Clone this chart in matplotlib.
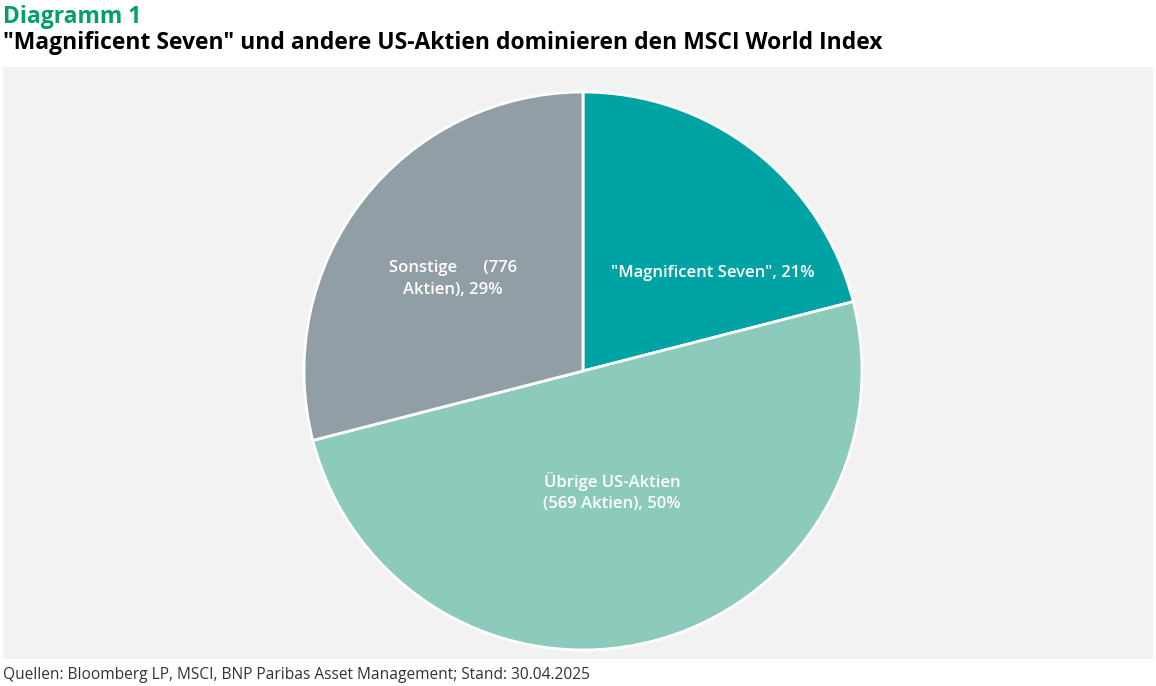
import matplotlib.pyplot as plt

plt.rcParams['font.family'] = ['Open Sans', 'DejaVu Sans']

segmente = ['"Magnificent Seven", 21%', 'Übrige US-Aktien\n(569 Aktien), 50%', 'Sonstige      (776\nAktien), 29%']
anteile = [21, 50, 29]
farben = ['#00a3a4', '#8ccbbb', '#929ea5']
# Position der Beschriftung (relativ zum Radius)
label_pos = [(0.466, 0.351), (0.104, -0.434), (-0.466, 0.33)]

W, H = 1156, 686
fig = plt.figure(figsize=(W / 100, H / 100), dpi=100)

# grauer Hintergrund
bg = fig.add_axes([3 / W, (H - 659) / H, 1150 / W, 592 / H])
bg.set_facecolor('#f2f2f2')
bg.set_xticks([])
bg.set_yticks([])
for s in bg.spines.values():
    s.set_visible(False)

# Kreisdiagramm
cx, cy, r = 583, 371, 279
ax = fig.add_axes([(cx - r) / W, (H - cy - r) / H, 2 * r / W, 2 * r / H])
ax.set_facecolor('none')
ax.pie(anteile, colors=farben, startangle=90, counterclock=False,
       wedgeprops=dict(edgecolor='white', linewidth=2))
for txt, (x, y) in zip(segmente, label_pos):
    ax.text(x, y, txt, color='white', fontsize=12, fontweight='semibold',
            ha='center', va='center', linespacing=1.45)
ax.set_xlim(-1, 1)
ax.set_ylim(-1, 1)
ax.set_aspect('equal')
ax.axis('off')

fig.text(0.003, 0.993, 'Diagramm 1', color='#00a06b', fontsize=16.5, fontweight='bold', va='top')
fig.text(0.003, 0.955, '"Magnificent Seven" und andere US-Aktien dominieren den MSCI World Index',
         color='black', fontsize=16.5, fontweight='bold', va='top')
fig.text(0.003, 0.005, 'Quellen: Bloomberg LP, MSCI, BNP Paribas Asset Management; Stand: 30.04.2025',
         color='#333333', fontsize=11.2, va='bottom')

plt.savefig('out.png', dpi=100)
